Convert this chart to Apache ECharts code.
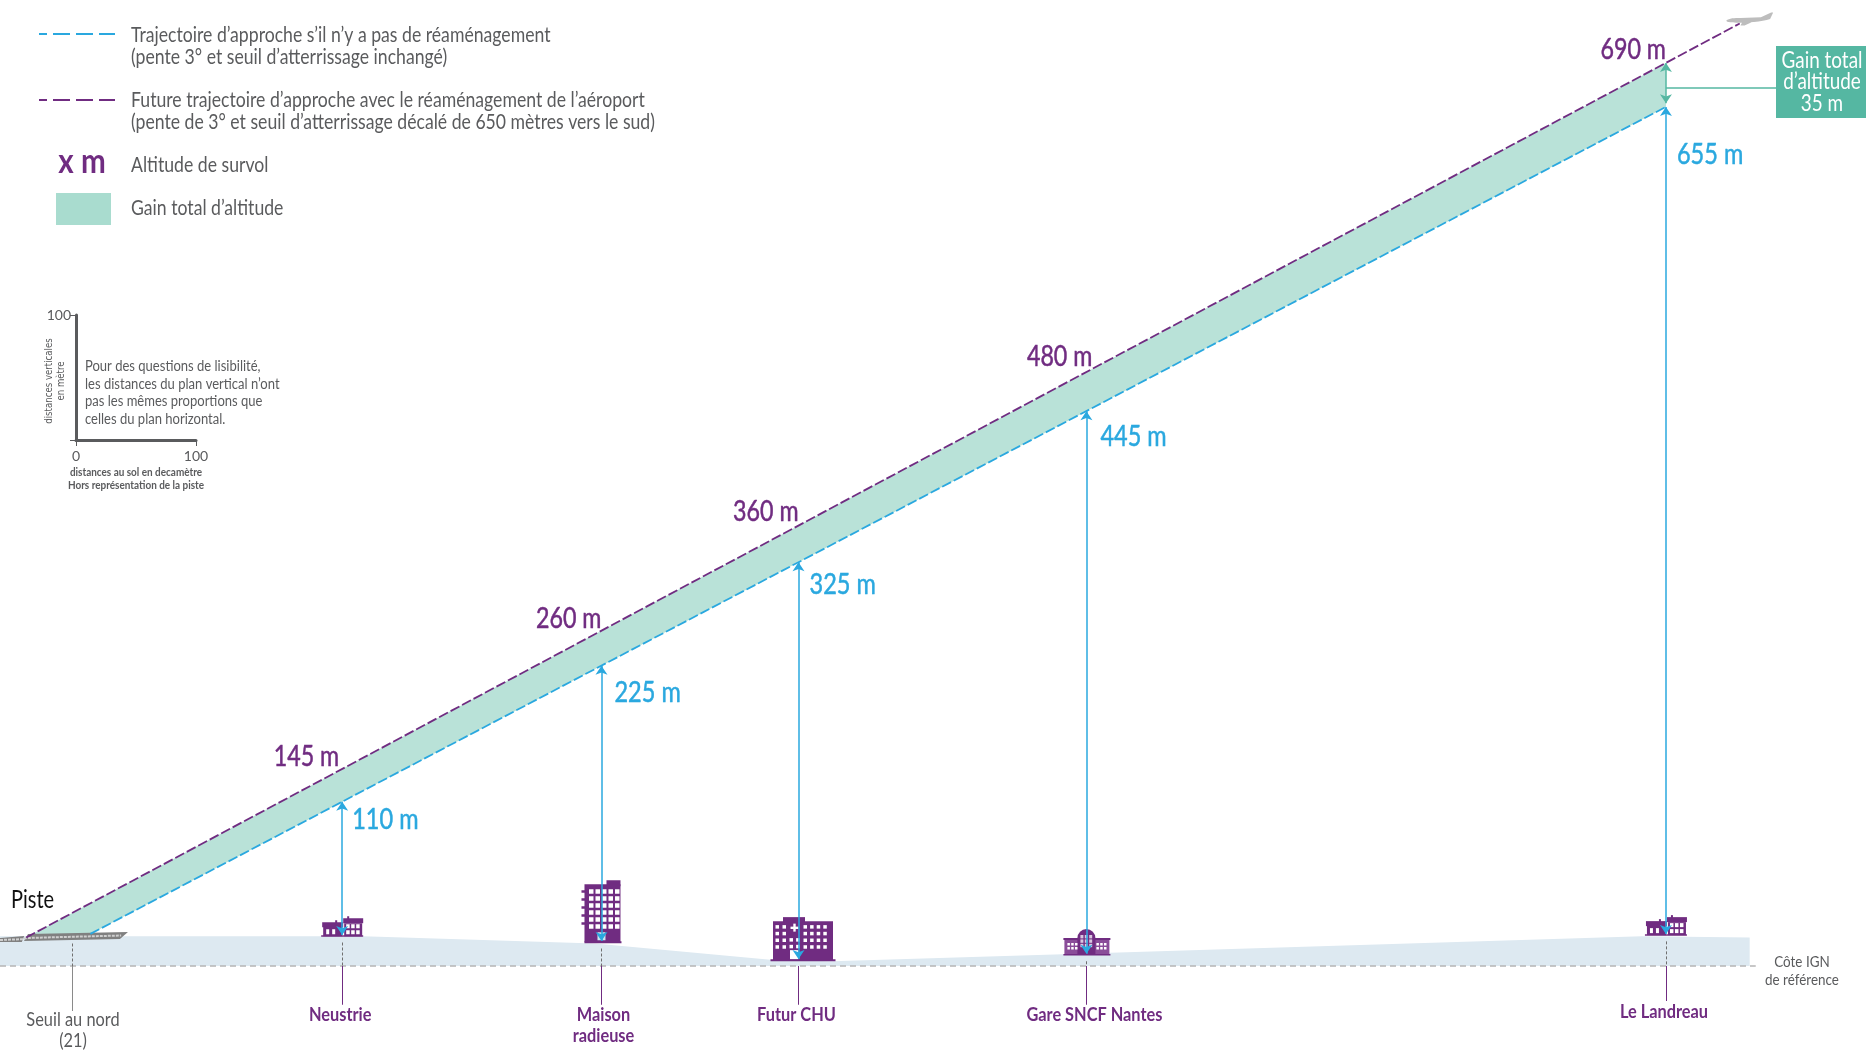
<!DOCTYPE html>
<html><head><meta charset="utf-8">
<style>html,body{margin:0;padding:0;background:#fff}#c{width:1866px;height:1051px}</style>
<script src="https://cdn.jsdelivr.net/npm/echarts@6/dist/echarts.min.js"></script>
</head><body><div id="c"></div>
<script>
// ---- data (km along the ground, metres of plotted height) ----
const stationNames = ['Neustrie', 'Maison\nradieuse', 'Futur CHU', 'Gare SNCF Nantes', 'Le Landreau'];
const stationKm = [2.824, 4.964, 6.590, 8.966, 13.749];
const groundAtStation = [24.8, 20, 5.7, 9.8, 25.7];
const printedBlue = [110, 225, 325, 445, 655];
const printedPurple = [145, 260, 360, 480, 690];
const plottedBlue = [131.4, 240.3, 323, 443.9, 687.3];
const plottedPurple = [157.7, 268.4, 352.3, 475.2, 722.5];
const buildingTypes = ['house', 'tower', 'hospital', 'station', 'house'];
const blueLine = [[0.746, 25.7], [13.749, 687.3]];
const purpleLine = [[0.216, 22.8], [14.358, 754]];
const groundProfile = [[0, 23.8], [2.995, 23.8], [4.91, 18], [6.38, 4.8], [6.87, 3.8], [8.77, 9.5], [13.55, 23.8], [14.44, 22.8]];
const referenceLine = [[0, 0], [14.49, 0]];
const thresholdKm = 0.599;
const gainBand = [[0.216, 22.8], [13.749, 722.5], [13.749, 687.3], [0.746, 25.7]];
const runwayMain = [[0.231, 25.6], [1.056, 27.2], [0.99, 21.6], [0.198, 20]];
const runwayStub = [[0, 22.4], [0.2, 24], [0.18, 19.2], [0, 19.2]];
const runwayMarks = [[0, 20.8], [0.18, 21.4], [0.22, 22.4], [1.0, 24.4]];
const legendTexts = [
  "Trajectoire d’approche s’il n’y a pas de réaménagement",
  "(pente 3° et seuil d’atterrissage inchangé)",
  "Future trajectoire d’approche avec le réaménagement de l’aéroport",
  "(pente de 3° et seuil d’atterrissage décalé de 650 mètres vers le sud)",
  "Altitude de survol",
  "Gain total d’altitude"
];
const scaleNote = ["Pour des questions de lisibilité,", "les distances du plan vertical n’ont", "pas les mêmes proportions que", "celles du plan horizontal."];

const FONT = 'Lato,"Liberation Sans",sans-serif';
const PURPLE = '#702c81', BLUE = '#2aa8df', GREEN = '#55b7a2', BAND = '#b9e2d8', GROUND = '#dde9f1', GREY = '#5a5b5d';

function polygonSeries(points, fill, z) {
  return {
    type: 'custom', xAxisIndex: 0, yAxisIndex: 0, silent: true, z: z, data: [0],
    renderItem: (p, api) => ({ type: 'polygon', shape: { points: points.map(q => api.coord(q)) }, style: { fill: fill } })
  };
}
function dashLine(points, color, width, dash, z) {
  return { type: 'line', xAxisIndex: 0, yAxisIndex: 0, data: points, symbol: 'none', silent: true, z: z, lineStyle: { color: color, width: width, type: dash } };
}
function rectEl(x, y, w, h, fill) { return { type: 'rect', shape: { x, y, width: w, height: h }, style: { fill } }; }
function windows(x0, y0, cols, rows, w, h, dx, dy, fill) {
  const out = [];
  for (let r = 0; r < rows; r++) for (let c = 0; c < cols; c++) out.push(rectEl(x0 + c * dx, y0 + r * dy, w, h, fill || '#fff'));
  return out;
}
function buildingEls(t, x, y) {
  if (t === 'house') return [
    rectEl(x - 19, y - 10, 19, 10, PURPLE), rectEl(x - 20, y - 14, 21, 5, PURPLE), rectEl(x - 7, y - 16, 2, 3, PURPLE),
    rectEl(x + 2, y - 13, 18, 13, PURPLE), rectEl(x + 1, y - 18, 20, 5, PURPLE), rectEl(x + 5, y - 20, 2, 3, PURPLE),
    rectEl(x - 21, y - 1, 42, 1.5, PURPLE),
    ...windows(x - 16, y - 7, 2, 1, 3, 5, 6, 0), ...windows(x + 4, y - 12, 3, 2, 3.5, 4, 5, 6)
  ];
  if (t === 'tower') return [
    rectEl(x - 17, y - 58, 36, 58, PURPLE), rectEl(x + 5, y - 62, 14, 6, PURPLE), rectEl(x - 17, y - 1, 37, 2, PURPLE),
    rectEl(x - 20, y - 52, 4, 2.5, PURPLE), rectEl(x - 20, y - 44, 4, 2.5, PURPLE), rectEl(x - 20, y - 36, 4, 2.5, PURPLE),
    rectEl(x - 20, y - 28, 4, 2.5, PURPLE), rectEl(x - 20, y - 20, 4, 2.5, PURPLE),
    ...windows(x - 12.5, y - 53, 5, 6, 4.5, 4.5, 6.5, 7), rectEl(x - 4, y - 10, 8, 8, '#c9e6f2')
  ];
  if (t === 'hospital') return [
    rectEl(x - 25.5, y - 39, 60, 39, PURPLE), rectEl(x - 15.5, y - 43, 22, 5, PURPLE), rectEl(x - 28, y - 1, 65, 2, PURPLE),
    ...windows(x - 23, y - 35, 2, 4, 3.5, 3.5, 7, 6.7), ...windows(x + 5, y - 35, 4, 4, 3.5, 3.5, 6.6, 6.7),
    ...windows(x - 9, y - 22, 2, 2, 3.5, 3.5, 6.6, 6.7),
    rectEl(x - 8, y - 33.5, 8, 2.4, '#fff'), rectEl(x - 5.2, y - 36.5, 2.4, 8, '#fff'), rectEl(x - 8.5, y - 10, 8.5, 9, '#fff')
  ];
  return [
    rectEl(x - 22, y - 16, 16, 15, '#8a4d99'), rectEl(x + 7, y - 16, 16, 15, '#8a4d99'),
    rectEl(x - 23, y - 17, 18, 2, PURPLE), rectEl(x + 6, y - 17, 18, 2, PURPLE),
    { type: 'sector', shape: { cx: x, cy: y - 17, r: 9, r0: 0, startAngle: Math.PI, endAngle: 0, clockwise: true }, style: { fill: PURPLE } },
    rectEl(x - 9, y - 17, 18, 16, PURPLE), rectEl(x - 23, y - 1, 47, 1.6, PURPLE),
    ...windows(x - 19, y - 12, 3, 2, 2.5, 2.5, 3.8, 4), ...windows(x + 10, y - 12, 3, 2, 2.5, 2.5, 3.8, 4),
    ...windows(x - 6, y - 20, 3, 3, 3, 3.4, 4.4, 4.4, '#d9c6e0')
  ];
}
const SX = 0.84;
const T = (text, x, y, o = {}) => ({
  type: 'text', x, y, silent: true, rotation: o.rot || 0, scaleX: o.sx === undefined ? SX : o.sx,
  style: { text, fill: o.fill || GREY, font: `${o.weight || 'normal'} ${o.size || 21}px ${o.family || FONT}`, align: o.align || 'left', verticalAlign: 'middle' }
});
const legendLine = (y, color) => ({ type: 'line', silent: true, shape: { x1: 39, y1: y, x2: 115, y2: y }, style: { stroke: color, lineWidth: 2, lineDash: [17, 6], lineDashOffset: 9 } });

const graphic = [
  legendLine(34, BLUE), legendLine(100, PURPLE),
  T(legendTexts[0], 131, 35), T(legendTexts[1], 131, 57),
  T(legendTexts[2], 131, 100.5), T(legendTexts[3], 131, 122),
  T('x m', 82, 162, { fill: PURPLE, size: 34, align: 'center', weight: 'bold', sx: 0.87 }),
  T(legendTexts[4], 131, 165),
  { type: 'rect', silent: true, shape: { x: 56, y: 193, width: 55, height: 32 }, style: { fill: '#a9dccf' } },
  T(legendTexts[5], 131, 208),
  T('distances verticales', 49, 381, { rot: Math.PI / 2, size: 10, align: 'center', family: '"DejaVu Sans",sans-serif', sx: 0.86 }),
  T('en mètre', 61, 381, { rot: Math.PI / 2, size: 10, align: 'center', family: '"DejaVu Sans",sans-serif', sx: 0.86 }),
  ...scaleNote.map((s, i) => T(s, 85, 366 + i * 17.6, { size: 15.5 })),
  T('distances au sol en decamètre', 136, 472.5, { size: 12, align: 'center', weight: 'bold', sx: 0.83 }),
  T('Hors représentation de la piste', 136, 485, { size: 12, align: 'center', weight: 'bold', sx: 0.83 }),
  T('Piste', 11, 900, { size: 25, fill: '#111', sx: 0.8 }),
  T('Côte IGN', 1802, 962, { size: 16, align: 'center' }), T('de référence', 1802, 980, { size: 16, align: 'center' }),
  T('Seuil au nord', 73, 1020, { size: 19.5, align: 'center' }), T('(21)', 73, 1041, { size: 19.5, align: 'center' }),
  { type: 'rect', silent: true, shape: { x: 1776, y: 46, width: 90, height: 72 }, style: { fill: GREEN } },
  T('Gain total', 1822, 61, { fill: '#fff', size: 22.5, align: 'center' }),
  T('d’altitude', 1822, 82, { fill: '#fff', size: 22.5, align: 'center' }),
  T('35 m', 1822, 103.5, { fill: '#fff', size: 22.5, align: 'center' })
];

const purpleOffsets = [[-3, -12], [0, -12], [0, -14], [6, -15], [0, -13]];
const blueOffsets = [[10, 18], [13, 27], [11, 23], [14, 26], [11, 48]];
const nameOffsets = [[-2, -10], [2, -10], [-2, -10], [8, -10], [-2, -13]];

function textSeries(values, makeStyle, offsets, sx) {
  return {
    type: 'custom', xAxisIndex: 0, yAxisIndex: 0, silent: true, z: 9,
    data: values.map((v, i) => [v[0], v[1], i]),
    renderItem: (p, api) => {
      const i = api.value(2), c = api.coord([api.value(0), api.value(1)]);
      return { type: 'text', x: c[0] + offsets[i][0], y: c[1] + offsets[i][1], scaleX: sx, style: makeStyle(i) };
    }
  };
}

const option = {
  animation: false, backgroundColor: '#fff', graphic: graphic,
  grid: [
    { left: 0, right: 0, top: 0, bottom: 0 },
    { left: 76, top: 315, width: 120, height: 125 }
  ],
  xAxis: [
    { type: 'value', gridIndex: 0, min: 0, max: 15.4, show: false },
    { type: 'value', gridIndex: 1, min: 0, max: 100, interval: 100,
      axisLine: { lineStyle: { color: GREY, width: 3 } }, axisTick: { length: 6, lineStyle: { color: GREY } }, splitLine: { show: false },
      axisLabel: { color: GREY, fontFamily: FONT, fontSize: 14, margin: 9, hideOverlap: false } }
  ],
  yAxis: [
    { type: 'value', gridIndex: 0, min: -68, max: 772.8, show: false },
    { type: 'value', gridIndex: 1, min: 0, max: 100, interval: 100,
      axisLine: { lineStyle: { color: GREY, width: 3 } }, axisTick: { length: 6, lineStyle: { color: GREY } }, splitLine: { show: false },
      axisLabel: { color: GREY, fontFamily: FONT, fontSize: 14, margin: 5, formatter: v => v === 0 ? '' : v } }
  ],
  series: [
    { type: 'line', xAxisIndex: 0, yAxisIndex: 0, data: groundProfile, symbol: 'none', silent: true, z: 1, lineStyle: { width: 0 }, areaStyle: { color: GROUND, origin: 0, opacity: 1 } },
    dashLine(referenceLine, '#b5b5b5', 1.5, [6, 4], 2),
    polygonSeries(gainBand, BAND, 3),
    polygonSeries(runwayStub, '#808080', 4),
    polygonSeries(runwayMain, '#808080', 4),
    dashLine(runwayMarks, '#cfcfcf', 2, [3, 1], 4),
    dashLine(blueLine, BLUE, 1.8, [10, 3], 5),
    dashLine(purpleLine, PURPLE, 1.8, [10, 3], 5),
    { // buildings
      type: 'custom', xAxisIndex: 0, yAxisIndex: 0, silent: true, z: 6,
      data: stationKm.map((k, i) => [k, groundAtStation[i] - 1, i]),
      renderItem: (p, api) => {
        const c = api.coord([api.value(0), api.value(1)]);
        return { type: 'group', children: buildingEls(buildingTypes[api.value(2)], c[0], c[1]) };
      }
    },
    { // stems: dashed grey above the reference, purple below
      type: 'lines', coordinateSystem: 'cartesian2d', xAxisIndex: 0, yAxisIndex: 0, silent: true, z: 5, symbol: 'none',
      lineStyle: { color: '#6f6f6f', width: 1, type: [3, 2], opacity: 1 },
      data: [...stationKm, thresholdKm].map((k, i) => ({ coords: [[k, i < 5 ? groundAtStation[i] - 6 : 18], [k, 0]] }))
    },
    {
      type: 'lines', coordinateSystem: 'cartesian2d', xAxisIndex: 0, yAxisIndex: 0, silent: true, z: 5, symbol: 'none',
      lineStyle: { color: PURPLE, width: 1, opacity: 1 },
      data: stationKm.map((k, i) => ({ coords: [[k, 0], [k, i === 4 ? -28 : -31]] }))
    },
    {
      type: 'lines', coordinateSystem: 'cartesian2d', xAxisIndex: 0, yAxisIndex: 0, silent: true, z: 5, symbol: 'none',
      lineStyle: { color: '#8a8a8a', width: 1, opacity: 1 },
      data: [{ coords: [[thresholdKm, 0], [thresholdKm, -36]] }]
    },
    { // blue arrows from the ground up to the current trajectory
      type: 'lines', coordinateSystem: 'cartesian2d', xAxisIndex: 0, yAxisIndex: 0, silent: true, z: 7,
      symbol: ['arrow', 'arrow'], symbolSize: 9,
      lineStyle: { color: BLUE, width: 1.5, opacity: 1 },
      data: stationKm.map((k, i) => ({ coords: [[k, groundAtStation[i]], [k, plottedBlue[i]]] }))
    },
    { // green gain arrow at Le Landreau
      type: 'lines', coordinateSystem: 'cartesian2d', xAxisIndex: 0, yAxisIndex: 0, silent: true, z: 8,
      symbol: ['arrow', 'arrow'], symbolSize: 9,
      lineStyle: { color: GREEN, width: 1.5, opacity: 1 },
      data: [{ coords: [[stationKm[4], plottedPurple[4]], [stationKm[4], plottedBlue[4] + 3]] }]
    },
    { // connector to the gain box
      type: 'lines', coordinateSystem: 'cartesian2d', xAxisIndex: 0, yAxisIndex: 0, silent: true, z: 8, symbol: 'none',
      lineStyle: { color: GREEN, width: 1.5, opacity: 1 },
      data: [{ coords: [[stationKm[4], 702.6], [14.66, 702.6]] }]
    },
    textSeries(stationKm.map((k, i) => [k, plottedPurple[i]]),
      i => ({ text: printedPurple[i] + ' m', fill: PURPLE, stroke: PURPLE, lineWidth: 0.5, font: `28px ${FONT}`, align: 'right', verticalAlign: 'middle' }), purpleOffsets, 0.83),
    textSeries(stationKm.map((k, i) => [k, plottedBlue[i]]),
      i => ({ text: printedBlue[i] + ' m', fill: BLUE, stroke: BLUE, lineWidth: 0.5, font: `28px ${FONT}`, align: 'left', verticalAlign: 'middle' }), blueOffsets, 0.84),
    textSeries(stationKm.map(k => [k, -38.4]),
      i => ({ text: stationNames[i], fill: PURPLE, font: `bold 19px ${FONT}`, align: 'center', verticalAlign: 'top', lineHeight: 21 }), nameOffsets, 0.86),
    { // aircraft at the end of the trajectory
      type: 'scatter', xAxisIndex: 0, yAxisIndex: 0, silent: true, z: 9,
      symbol: 'path://M0 9 C3 6 8 6 14 6 L34 5 L44 0 L46 0 L43 7 C35 10 20 11 10 11 C5 11 1 11 0 9 Z M16 10 L26 10 L18 14 L14 14 Z',
      symbolSize: [47, 13], itemStyle: { color: '#bdbdbd', opacity: 1 },
      data: [[14.44, 757.6]]
    }
  ]
};
echarts.init(document.getElementById('c'), null, { renderer: 'canvas' }).setOption(option);
</script></body></html>
